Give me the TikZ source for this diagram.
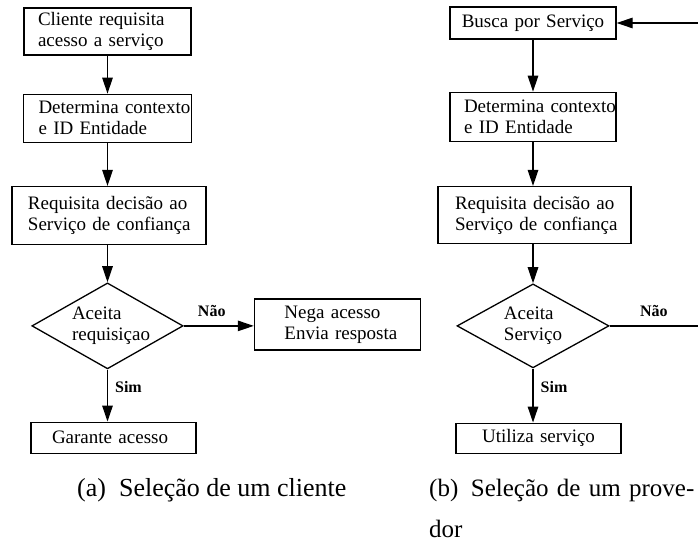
\documentclass[tikz,border=0pt]{standalone}
\usepackage{fontspec}
\setmainfont{Liberation Serif}
\usetikzlibrary{positioning, arrows.meta, shapes.geometric}

\begin{document}
\begin{tikzpicture}
	[x=1pt, y=1pt,
	box/.style={draw, line width=1.3pt, inner sep=0pt, align=left, font=\fontsize{19}{21}\selectfont},
	lpad/.style={execute at begin node={\leftskip=#1\relax}},
	dec/.style={draw, diamond, line width=1.3pt, inner sep=0pt, aspect=1.76, align=left, font=\fontsize{19}{21}\selectfont},
	arr/.style={-{Triangle[length=16pt, width=10.5pt]}, line width=1.3pt},
	lbl/.style={inner sep=3pt, font=\fontsize{16}{18}\selectfont\bfseries},
	captext/.style={inner sep=0pt, anchor=base west, font=\fontsize{26}{41}\selectfont}]
	\useasboundingbox (0,0) rectangle (698,543);

	% nodes (a) %
	\node[box, lpad=14pt, text width=167pt, minimum height=47pt] (a1) at (107.5,511.5) {Cliente requisita\\acesso a serviço};
	\node[box, lpad=15pt, text width=168pt, minimum height=48pt, below=38pt of a1] (a2) {\mbox{Determina contexto}\\e ID Entidade};
	\node[box, lpad=16pt, text width=194pt, minimum height=58pt, below=43pt of a2, xshift=1.5pt] (a3) {Requisita decisão ao\\Serviço de confiança};
	\node[dec, lpad=7pt, text width=85pt, minimum width=151pt, minimum height=86pt, below=37pt of a3, xshift=-1.5pt] (da) {Aceita\\requisiçao};
	\node[box, lpad=30pt, text width=166pt, minimum height=51pt, right=70pt of da, yshift=1.5pt] (a5) {Nega acesso\\Envia resposta};
	\node[box, lpad=21pt, text width=165pt, minimum height=31pt, below=52pt of da, xshift=6pt] (a6) {Garante acesso};

	% nodes (b) %
	\node[box, align=center, text width=166pt, minimum height=32pt] (b1) at (533,520) {Busca por Serviço};
	\node[box, lpad=14pt, text width=166pt, minimum height=49pt, below=52pt of b1] (b2) {\mbox{Determina contexto}\\e ID Entidade};
	\node[box, lpad=17pt, text width=193pt, minimum height=57pt, below=44pt of b2, xshift=1.5pt] (b3) {Requisita decisão ao\\Serviço de confiança};
	\node[dec, minimum width=152pt, minimum height=84pt, below=39pt of b3, xshift=-1.5pt] (db) {Aceita\\Serviço};
	\node[box, align=center, text width=165pt, minimum height=30pt, below=54pt of db, xshift=5.5pt] (b6) {Utiliza serviço};
	\coordinate (redge) at (698,0);
	\coordinate (bnao) at (db.east -| redge);
	\coordinate (btop) at (b1.east -| redge);

	% captions %
	\node[captext] (capa) at (77,46) {(a)\enspace Seleção de um cliente};
	\node[captext, font=\fontsize{25}{41}\selectfont, text width=268pt, align=left] (capb) at (429,46) {\mbox{(b)\enspace Seleção de um prove-}\\dor};

	% edges (a) %
	\draw[arr] (a1.south) -- (a2.north);
	\draw[arr] (a2.south) -- (a2.south |- a3.north);
	\draw[arr] (a3.south -| da.north) -- (da.north);
	\draw[arr] (da.east) -- (a5.west |- da.east) node[lbl, pos=0.4, above=6pt] {Não};
	\draw[arr] (da.south) -- (da.south |- a6.north) node[lbl, pos=0.34, right=4pt] {Sim};

	% edges (b) %
	\draw[arr] (b1.south) -- (b2.north);
	\draw[arr] (b2.south) -- (b2.south |- b3.north);
	\draw[arr] (b3.south -| db.north) -- (db.north);
	\draw[line width=1.3pt] (db.east) -- (bnao) node[lbl, midway, above=6pt] {Não};
	\draw[arr] (db.south) -- (db.south |- b6.north) node[lbl, pos=0.34, right=4pt] {Sim};
	\draw[arr] (btop) -- (b1.east);
\end{tikzpicture}
\end{document}
